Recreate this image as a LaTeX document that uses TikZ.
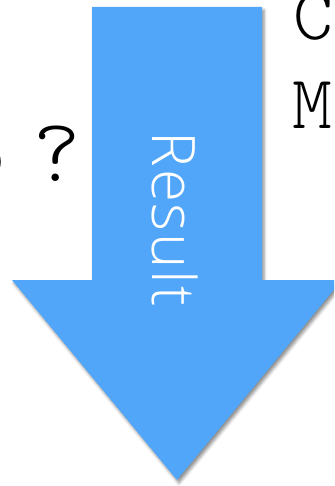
\documentclass[tikz,border=0pt]{standalone}
\usepackage{fontspec}
\usetikzlibrary{shadows.blur}
\newfontfamily\resultfont{Open Sans Light}[LetterSpace=3]
\newfontfamily\monolight{Latin Modern Mono Light}
\definecolor{arrowblue}{RGB}{81,166,249}
\tikzset{
  bigtext/.style={inner sep=0pt, text=black},
  arrowbody/.style={fill=arrowblue, blur shadow={shadow xshift=2pt, shadow yshift=-3pt, shadow blur radius=3pt, shadow opacity=45}},
}
\begin{document}
\begin{tikzpicture}[x=1pt,y=-1pt]
  \useasboundingbox (0,0) rectangle (334,486);
  \clip (0,0) rectangle (334,486);
  % downward block arrow
  \path[arrowbody] (92,7) -- (262,7) -- (262,280) -- (342,280) -- (177,480)
        -- (12,280) -- (92,280) -- cycle;
  % label running down the shaft
  \node[rotate=-90, anchor=base, inner sep=0pt, text=white,
        font=\resultfont\fontsize{60}{62}\selectfont] (result) at (152,219) {Result};
  % text on either side of the arrow
  \node[bigtext, anchor=base east, font=\monolight\fontsize{90}{94}\selectfont]
        (question) at (81,182) {o\kern-20pt\ ?};
  \node[bigtext, anchor=base west, font=\monolight\fontsize{76}{80}\selectfont]
        (linec) at (293,40) {C};
  \node[bigtext, anchor=base west, font=\monolight\fontsize{76}{80}\selectfont]
        (linem) at (292,129) {M};
\end{tikzpicture}
\end{document}
